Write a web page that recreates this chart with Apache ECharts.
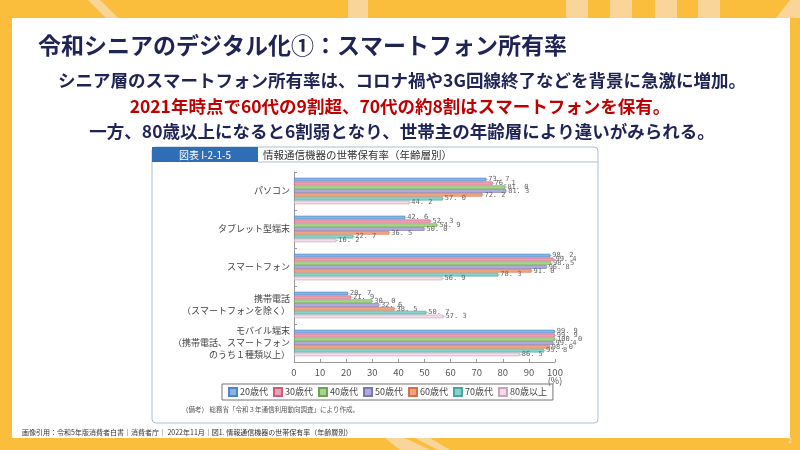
<!DOCTYPE html>
<html>
<head>
<meta charset="utf-8">
<script src="https://cdn.jsdelivr.net/npm/echarts@6/dist/echarts.min.js"></script>
<style>
  html,body{margin:0;padding:0;background:#fbbe3c;}
  #main{width:800px;height:450px;}
</style>
</head>
<body>
<div id="main"></div>
<script>
// 情報通信機器の世帯保有率（年齢層別）
var categories = ['パソコン', 'タブレット型端末', 'スマートフォン', '携帯電話\n（スマートフォンを除く）', 'モバイル端末\n（携帯電話、スマートフォン\nのうち１種類以上）'];
var ageGroups = ['20歳代', '30歳代', '40歳代', '50歳代', '60歳代', '70歳代', '80歳以上'];
var v20s = [73.7, 42.6, 98.2, 20.7, 99.9];
var v30s = [76.1, 52.3, 99.4, 21.9, 99.9];
var v40s = [81.0, 54.9, 98.5, 30.0, 100.0];
var v50s = [81.3, 50.0, 96.8, 32.6, 99.4];
var v60s = [72.2, 36.5, 91.0, 38.5, 98.0];
var v70s = [57.0, 22.7, 78.3, 50.7, 95.8];
var v80s = [44.2, 16.2, 56.9, 57.3, 86.5];
var xTicks = [0, 10, 20, 30, 40, 50, 60, 70, 80, 90, 100];

var allValues = [v20s, v30s, v40s, v50s, v60s, v70s, v80s];
var barColors = ['#86b5e3', '#eca0b4', '#a6d38e', '#aeaadb', '#f2a47e', '#86d3cb', '#f5dcea'];
var barBorders = ['#4f84c0', '#c8607c', '#6aa452', '#7b76b4', '#d27048', '#4aa59c', '#c9a3b8'];

var Mychart = echarts.init(document.getElementById('main'));

var series = [];
for (var i = 0; i < ageGroups.length; i++) {
    series.push({
        name: ageGroups[i],
        type: 'bar',
        data: allValues[i],
        barWidth: 3.6,
        barGap: '6%',
        itemStyle: {color: barColors[i], borderColor: barBorders[i], borderWidth: 0.6},
        label: {
            show: true, position: 'right', distance: 2,
            fontSize: 7, color: '#666', fontFamily: 'DejaVu Sans Mono',
            formatter: function (p) { return p.value.toFixed(1).replace('.', '. '); }
        },
        labelLayout: {moveOverlap: 'shiftY'},
        labelLine: {show: true, lineStyle: {color: '#999', width: 0.5}}
    });
}

var option = {
    backgroundColor: '#fbbe3c',
    animation: false,
    textStyle: {fontFamily: 'Noto Sans CJK JP'},
    graphic: [
        // stripes on the slide background
        {type: 'polygon', shape: {points: [[88, 0], [100, 0], [118, 18], [106, 18]]}, style: {fill: '#f9d59a'}},
        {type: 'rect', shape: {x: 348, y: 0, width: 20, height: 18}, style: {fill: '#f9d59a'}},
        {type: 'rect', shape: {x: 566, y: 0, width: 22, height: 18}, style: {fill: '#f9d59a'}},
        {type: 'rect', shape: {x: 610, y: 0, width: 22, height: 18}, style: {fill: '#f9d59a'}},
        {type: 'rect', shape: {x: 655, y: 0, width: 22, height: 18}, style: {fill: '#f9d59a'}},
        {type: 'rect', shape: {x: 698, y: 0, width: 22, height: 18}, style: {fill: '#f9d59a'}},
        {type: 'polygon', shape: {points: [[776, 18], [790, 0], [800, 0], [800, 18]]}, style: {fill: '#f9d59a'}},
        {type: 'polygon', shape: {points: [[385, 438], [405, 438], [430, 450], [400, 450]]}, style: {fill: '#f9d59a'}},
        {type: 'polygon', shape: {points: [[415, 438], [430, 438], [450, 450], [438, 450]]}, style: {fill: '#f9d59a'}},
        // white slide panel
        {type: 'rect', shape: {x: 12, y: 18, width: 778, height: 420}, style: {fill: '#ffffff'}},
        // headings
        {type: 'text', left: 38, top: 34, style: {text: '令和シニアのデジタル化①：スマートフォン所有率', font: 'bold 23px "Noto Sans CJK JP"', fill: '#1f2456'}},
        {type: 'text', x: 402, y: 80, style: {text: 'シニア層のスマートフォン所有率は、コロナ禍や3G回線終了などを背景に急激に増加。', font: 'bold 17.5px "Noto Sans CJK JP"', fill: '#1f2456', align: 'center', verticalAlign: 'middle'}},
        {type: 'text', x: 400, y: 106, style: {text: '2021年時点で60代の9割超、70代の約8割はスマートフォンを保有。', font: 'bold 17.5px "Noto Sans CJK JP"', fill: '#c00000', align: 'center', verticalAlign: 'middle'}},
        {type: 'text', x: 402, y: 131, style: {text: '一方、80歳以上になると6割弱となり、世帯主の年齢層により違いがみられる。', font: 'bold 17.5px "Noto Sans CJK JP"', fill: '#1f2456', align: 'center', verticalAlign: 'middle'}},
        // chart frame
        {type: 'rect', shape: {x: 152, y: 147, width: 446, height: 276, r: 4}, style: {fill: 'none', stroke: '#a9bfd6', lineWidth: 1}},
        {type: 'rect', shape: {x: 152, y: 147, width: 106, height: 15}, style: {fill: '#2f6db5'}},
        {type: 'line', shape: {x1: 258, y1: 162, x2: 598, y2: 162}, style: {stroke: '#a9bfd6', lineWidth: 1}},
        {type: 'text', x: 205, y: 155, style: {text: '図表 I-2-1-5', font: '10px "Noto Sans CJK JP"', fill: '#ffffff', align: 'center', verticalAlign: 'middle'}},
        {type: 'text', x: 263, y: 155, style: {text: '情報通信機器の世帯保有率（年齢層別）', font: '10.5px "Noto Sans CJK JP"', fill: '#333333', verticalAlign: 'middle'}},
        {type: 'text', x: 555, y: 381, style: {text: '(%)', font: '9px "Noto Sans CJK JP"', fill: '#555', align: 'center', verticalAlign: 'middle'}},
        {type: 'text', x: 182, y: 410, style: {text: '（備考） 総務省「令和３年通信利用動向調査」により作成。', font: '6.5px "Noto Sans CJK JP"', fill: '#555', verticalAlign: 'middle'}},
        // footer
        {type: 'text', x: 22, y: 432, style: {text: '画像引用：令和5年版消費者白書｜消費者庁｜ 2022年11月｜図1. 情報通信機器の世帯保有率（年齢層別）', font: '7px "Noto Sans CJK JP"', fill: '#333', verticalAlign: 'middle'}},
        {type: 'text', x: 790, y: 440, style: {text: '2', font: '7px "Noto Sans CJK JP"', fill: '#f5e2b8', align: 'center', verticalAlign: 'middle'}}
    ],
    legend: {
        data: ageGroups,
        left: 222, top: 384,
        orient: 'horizontal',
        width: 600,
        padding: [3, 6],
        itemGap: 5,
        itemWidth: 8, itemHeight: 8,
        borderColor: '#777', borderWidth: 1,
        icon: 'rect',
        textStyle: {fontSize: 9, color: '#444', padding: [0, 0, 0, -2]}
    },
    grid: {
        left: 294, right: 245, top: 172, bottom: 88,
        show: true, borderColor: '#999', borderWidth: 1
    },
    xAxis: {
        type: 'value',
        min: xTicks[0], max: xTicks[xTicks.length - 1], interval: 10,
        axisLine: {show: true, lineStyle: {color: '#999'}},
        axisTick: {show: true, inside: true, length: 3, lineStyle: {color: '#999'}},
        axisLabel: {fontSize: 9.5, color: '#555', margin: 6},
        splitLine: {show: false}
    },
    yAxis: {
        type: 'category',
        data: categories,
        inverse: true,
        axisLine: {show: true, lineStyle: {color: '#999'}},
        axisTick: {show: true, inside: true, length: 3, lineStyle: {color: '#999'}},
        axisLabel: {fontSize: 9, color: '#444', lineHeight: 12, margin: 4, align: 'right'}
    },
    series: series
};
Mychart.setOption(option);
</script>
</body>
</html>
